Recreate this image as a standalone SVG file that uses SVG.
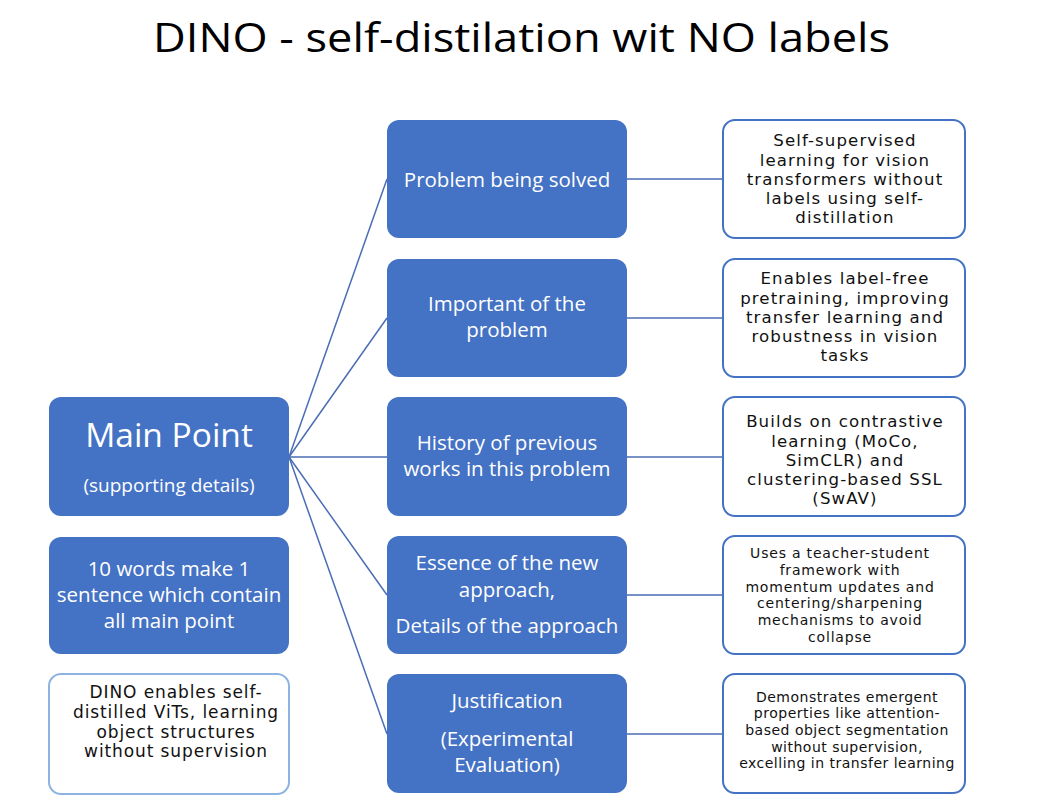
<svg xmlns="http://www.w3.org/2000/svg" width="1041" height="805" viewBox="0 0 1041 805">
<style>
.blue{fill:#4472C4;}
.wbox{fill:#ffffff;stroke:#4472C4;stroke-width:2;}
.lbox{fill:#ffffff;stroke:#8db3e2;stroke-width:2;}
.wt{font-family:"Open Sans","Noto Sans",sans-serif;fill:#ffffff;text-anchor:middle;font-size:20.5px;}
.bt{font-family:"DejaVu Sans","Open Sans",sans-serif;fill:#111111;text-anchor:middle;font-size:16.6px;letter-spacing:1.1px;}
.lt{font-family:"DejaVu Sans","Open Sans",sans-serif;fill:#111111;text-anchor:middle;font-size:17px;letter-spacing:0.9px;}
.st{font-family:"DejaVu Sans","Open Sans",sans-serif;fill:#111111;text-anchor:middle;font-size:14px;letter-spacing:0.8px;}
.st2{font-family:"DejaVu Sans","Open Sans",sans-serif;fill:#111111;text-anchor:middle;font-size:14px;letter-spacing:0.5px;}
.mp{font-size:33.5px;}
.sd{font-size:19px;}
.conn line{stroke:#4a6db4;stroke-width:1.5;}
</style>
<rect width="1041" height="805" fill="#ffffff"/>
<text x="153" y="52" font-family="Open Sans, sans-serif" font-size="40" fill="#000" textLength="737" lengthAdjust="spacingAndGlyphs">DINO - self-distilation wit NO labels</text>

<g class="conn">
<line x1="289" y1="457" x2="387" y2="179"/>
<line x1="289" y1="457" x2="387" y2="318"/>
<line x1="289" y1="457" x2="387" y2="457"/>
<line x1="289" y1="457" x2="387" y2="595"/>
<line x1="289" y1="457" x2="387" y2="734"/>
<line x1="627" y1="179" x2="723" y2="179"/>
<line x1="627" y1="318" x2="723" y2="318"/>
<line x1="627" y1="457" x2="723" y2="457"/>
<line x1="627" y1="595" x2="723" y2="595"/>
<line x1="627" y1="734" x2="723" y2="734"/>
</g>

<g id="main">
<rect class="blue" x="49" y="397" width="240" height="119" rx="12"/>
<text class="wt mp" x="169" y="447">Main Point</text>
<text class="wt sd" x="169" y="492">(supporting details)</text>
</g>
<g id="sentence">
<rect class="blue" x="49" y="537" width="240" height="117" rx="12"/>
<text class="wt" x="169" y="576">10 words make 1</text>
<text class="wt" x="169" y="602">sentence which contain</text>
<text class="wt" x="169" y="628">all main point</text>
</g>
<g id="summary">
<rect class="lbox" x="49" y="674" width="240" height="120" rx="12"/>
<text class="lt" x="176" y="698">DINO enables self-</text>
<text class="lt" x="176" y="718">distilled ViTs, learning</text>
<text class="lt" x="176" y="738">object structures</text>
<text class="lt" x="176" y="757">without supervision</text>
</g>

<g id="problem">
<rect class="blue" x="387" y="120" width="240" height="118" rx="12"/>
<text class="wt" x="507" y="187">Problem being solved</text>
</g>
<g id="importance">
<rect class="blue" x="387" y="259" width="240" height="118" rx="12"/>
<text class="wt" x="507" y="311">Important of the</text>
<text class="wt" x="507" y="337">problem</text>
</g>
<g id="history">
<rect class="blue" x="387" y="397" width="240" height="119" rx="12"/>
<text class="wt" x="507" y="450">History of previous</text>
<text class="wt" x="507" y="476">works in this problem</text>
</g>
<g id="essence">
<rect class="blue" x="387" y="536" width="240" height="118" rx="12"/>
<text class="wt" x="507" y="570">Essence of the new</text>
<text class="wt" x="507" y="597">approach,</text>
<text class="wt" x="507" y="633">Details of the approach</text>
</g>
<g id="justification">
<rect class="blue" x="387" y="674" width="240" height="119" rx="12"/>
<text class="wt" x="507" y="708">Justification</text>
<text class="wt" x="507" y="746">(Experimental</text>
<text class="wt" x="507" y="772">Evaluation)</text>
</g>

<g id="problem-detail">
<rect class="wbox" x="723" y="120" width="242" height="118" rx="12"/>
<text class="bt" x="845" y="146">Self-supervised</text>
<text class="bt" x="845" y="166">learning for vision</text>
<text class="bt" x="845" y="185">transformers without</text>
<text class="bt" x="845" y="204">labels using self-</text>
<text class="bt" x="845" y="223">distillation</text>
</g>
<g id="importance-detail">
<rect class="wbox" x="723" y="259" width="242" height="118" rx="12"/>
<text class="bt" x="845" y="284">Enables label-free</text>
<text class="bt" x="845" y="304">pretraining, improving</text>
<text class="bt" x="845" y="323">transfer learning and</text>
<text class="bt" x="845" y="342">robustness in vision</text>
<text class="bt" x="845" y="361">tasks</text>
</g>
<g id="history-detail">
<rect class="wbox" x="723" y="397" width="242" height="119" rx="12"/>
<text class="bt" x="845" y="427">Builds on contrastive</text>
<text class="bt" x="845" y="447">learning (MoCo,</text>
<text class="bt" x="845" y="466">SimCLR) and</text>
<text class="bt" x="845" y="485">clustering-based SSL</text>
<text class="bt" x="845" y="504">(SwAV)</text>
</g>
<g id="essence-detail">
<rect class="wbox" x="723" y="536" width="242" height="118" rx="12"/>
<text class="st" x="840" y="558">Uses a teacher-student</text>
<text class="st" x="840" y="575">framework with</text>
<text class="st" x="840" y="592">momentum updates and</text>
<text class="st" x="840" y="608">centering/sharpening</text>
<text class="st" x="840" y="625">mechanisms to avoid</text>
<text class="st" x="840" y="642">collapse</text>
</g>
<g id="justification-detail">
<rect class="wbox" x="723" y="674" width="242" height="119" rx="12"/>
<text class="st2" x="847" y="702">Demonstrates emergent</text>
<text class="st2" x="847" y="718">properties like attention-</text>
<text class="st2" x="847" y="735">based object segmentation</text>
<text class="st2" x="847" y="752">without supervision,</text>
<text class="st2" x="847" y="768">excelling in transfer learning</text>
</g>
</svg>
